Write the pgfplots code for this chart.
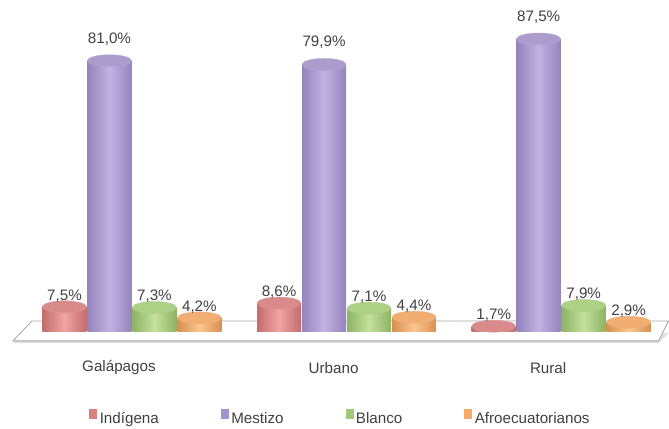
\documentclass[border=0pt]{standalone}
\usepackage{fontspec}
\setmainfont{Liberation Sans}
\usepackage{pgfplots}
\pgfplotsset{compat=1.18}
\definecolor{labtext}{HTML}{404040}
\definecolor{indA}{HTML}{C46C6C}
\definecolor{indB}{HTML}{F0A4A4}
\definecolor{indC}{HTML}{D98A8A}
\definecolor{mesA}{HTML}{9584BE}
\definecolor{mesB}{HTML}{C2B2E0}
\definecolor{mesC}{HTML}{AC9CCE}
\definecolor{blaA}{HTML}{8CB462}
\definecolor{blaB}{HTML}{C6E09E}
\definecolor{blaC}{HTML}{ACD084}
\definecolor{afrA}{HTML}{D9904F}
\definecolor{afrB}{HTML}{FBC690}
\definecolor{afrC}{HTML}{F2AE70}
\definecolor{indL}{HTML}{D98080}
\definecolor{mesL}{HTML}{A292CA}
\definecolor{blaL}{HTML}{A2C87A}
\definecolor{afrL}{HTML}{F6AA6A}
\newcommand\chartfont{\fontsize{15.2}{18}\selectfont}
\pgfplotsset{
  cyl/.style={ybar, bar width=44pt, bar shift=0pt, draw=none, left color=#1A, right color=#1A, middle color=#1B, forget plot},
  cap/.style={only marks, mark=*, mark size=22pt, mark options={yscale=0.27, fill=#1C, draw=#1A!70, line width=0.4pt}},
  lbl/.style={
    nodes near coords={\pgfmathprintnumber[fixed,fixed zerofill,precision=1,use comma,assume math mode=true]{\pgfplotspointmeta}\%},
    every node near coord/.append style={font=\chartfont, text=labtext, yshift=#1},
  },
}
\begin{document}
\begin{tikzpicture}
\begin{axis}[
  scale only axis,
  width=669pt, height=427pt,
  xmin=-0.6147, xmax=2.5006,
  ymin=-28.36, ymax=99.1,
  axis line style={draw=none},
  major tick length=0pt,
  ytick=\empty,
  xtick={0,1,2},
  xticklabels={Galápagos,Urbano,Rural},
  xticklabel style={font=\chartfont, text=labtext, anchor=center, yshift=59pt, xshift=-13pt},
  clip=false,
  legend style={at={(axis description cs:0.51,0.021)}, anchor=center, draw=none, fill=none,
    font=\chartfont, text=labtext, legend columns=4, nodes={inner xsep=3pt},
    /tikz/every even column/.append style={column sep=59pt}},
]
% floor
\fill[gray!25] (rel axis cs:0.0194,0.1960) -- (rel axis cs:0.9850,0.1960) -- (rel axis cs:1.0,0.2200) -- (rel axis cs:0.0344,0.2200) -- cycle;
\filldraw[fill=white, draw=gray!70, line width=0.8pt] (rel axis cs:0.0194,0.2014) -- (rel axis cs:0.0478,0.2482) -- (rel axis cs:1.0,0.2482) -- (rel axis cs:0.9850,0.2014) -- cycle;

% cylinders, one per bar
\addplot[cyl=ind] coordinates {(-0.3143,7.5)};
\addplot[cyl=ind] coordinates {(0.6857,8.6)};
\addplot[cyl=ind] coordinates {(1.6857,1.7)};
\addplot[cyl=mes] coordinates {(-0.1048,81.0)};
\addplot[cyl=mes] coordinates {(0.8952,79.9)};
\addplot[cyl=mes] coordinates {(1.8952,87.5)};
\addplot[cyl=bla] coordinates {(0.1048,7.3)};
\addplot[cyl=bla] coordinates {(1.1048,7.1)};
\addplot[cyl=bla] coordinates {(2.1048,7.9)};
\addplot[cyl=afr] coordinates {(0.3143,4.2)};
\addplot[cyl=afr] coordinates {(1.3143,4.4)};
\addplot[cyl=afr] coordinates {(2.3143,2.9)};

% tops of the cylinders, labels, legend
\addplot[cap=ind, lbl=1pt,
  legend image code/.code={\fill[indL] (0pt,0pt) rectangle (7pt,9pt);}]
  coordinates {(-0.3143,7.5) (0.6857,8.6) (1.6857,1.7)};
\addlegendentry{Indígena}
\addplot[cap=mes, lbl=12pt,
  legend image code/.code={\fill[mesL] (0pt,0pt) rectangle (7pt,9pt);}]
  coordinates {(-0.1048,81.0) (0.8952,79.9) (1.8952,87.5)};
\addlegendentry{Mestizo}
\addplot[cap=bla, lbl=1pt,
  legend image code/.code={\fill[blaL] (0pt,0pt) rectangle (7pt,9pt);}]
  coordinates {(0.1048,7.3) (1.1048,7.1) (2.1048,7.9)};
\addlegendentry{Blanco}
\addplot[cap=afr, lbl=1pt,
  legend image code/.code={\fill[afrL] (0pt,0pt) rectangle (7pt,9pt);}]
  coordinates {(0.3143,4.2) (1.3143,4.4) (2.3143,2.9)};
\addlegendentry{Afroecuatorianos}
\end{axis}
\end{tikzpicture}
\end{document}
